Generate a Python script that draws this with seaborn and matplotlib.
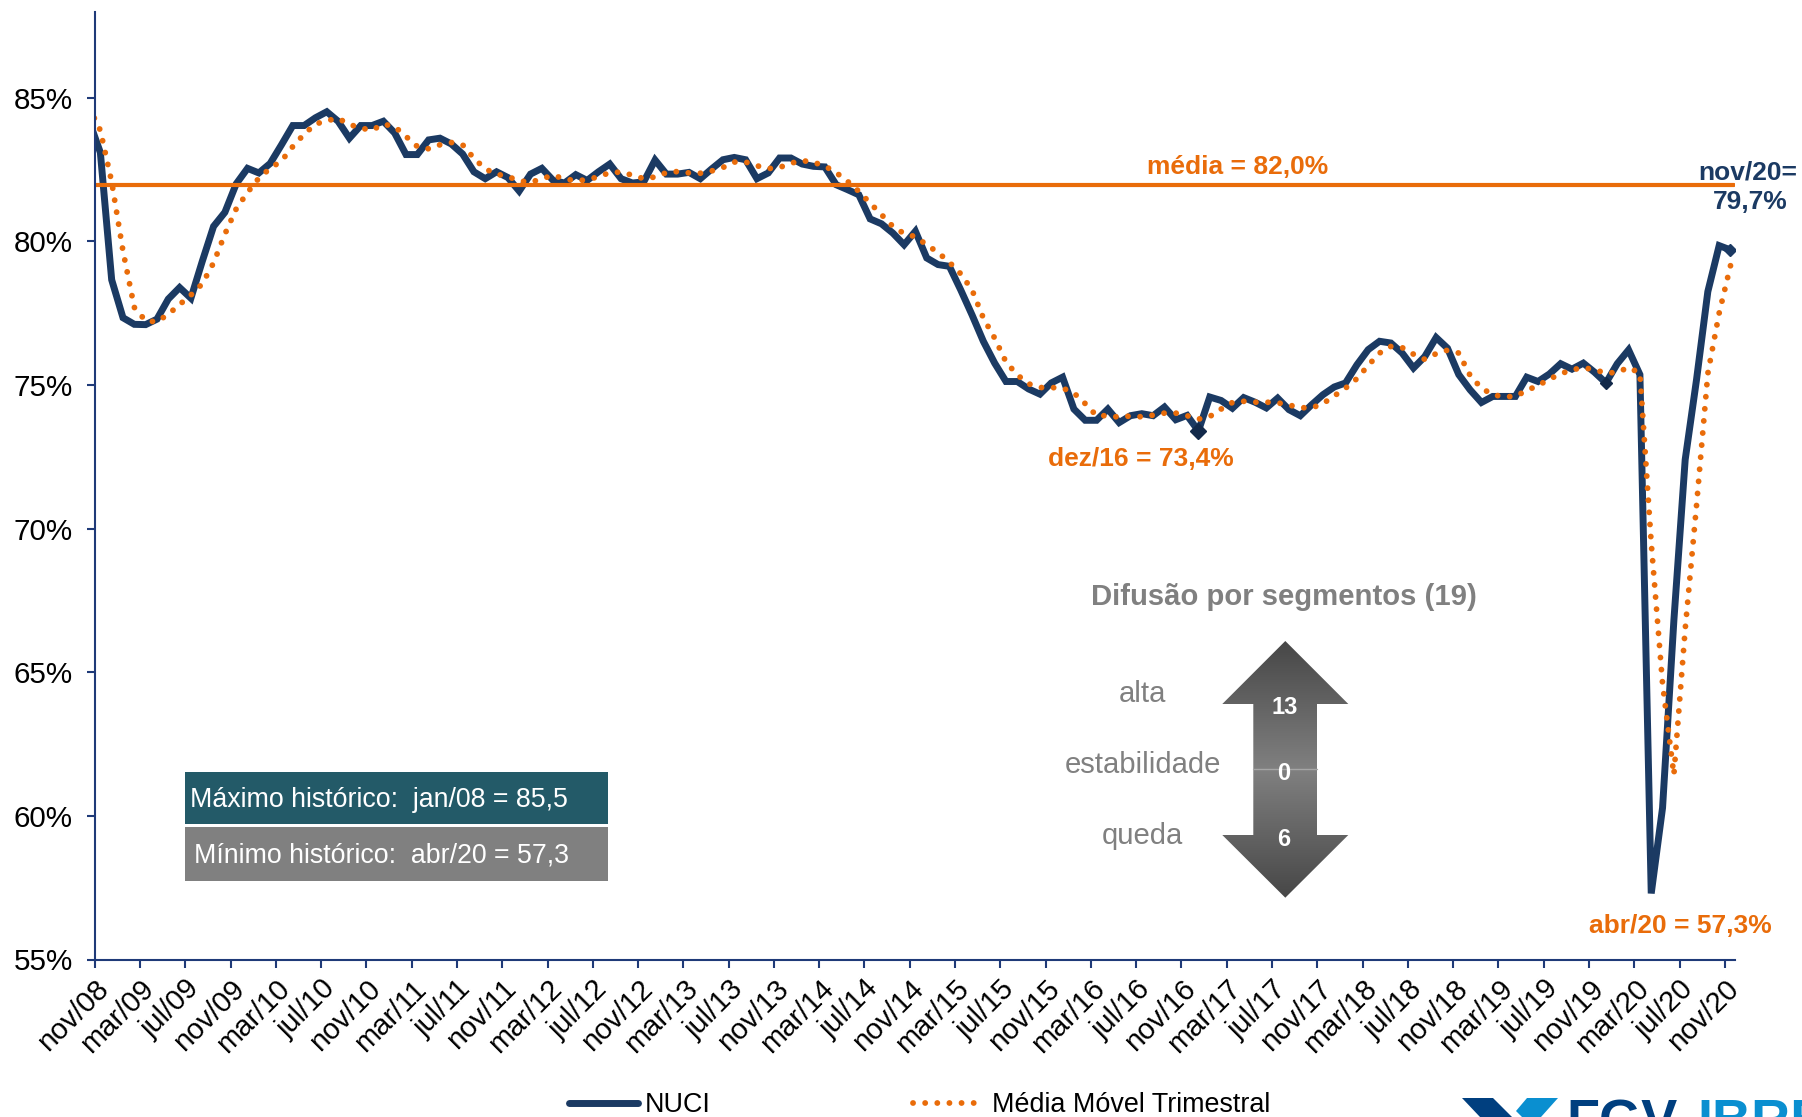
# NUCI chart - capacity utilisation with 3 month moving average

import matplotlib
matplotlib.use("Agg")
import matplotlib.pyplot as plt
from matplotlib.patches import Polygon, Rectangle
import numpy as np
import pandas as pd
import seaborn as sns

nuci = [84.2,
        83.09, 78.66, 77.34, 77.11, 77.10, 77.29, 77.99, 78.39, 78.02, 79.30, 80.52, 81.01,
        82.00, 82.54, 82.38, 82.71, 83.36, 84.03, 84.03, 84.30, 84.51, 84.18, 83.59, 84.03,
        84.03, 84.18, 83.77, 83.02, 83.02, 83.53, 83.59, 83.39, 83.04, 82.42, 82.18, 82.42,
        82.22, 81.75, 82.34, 82.54, 82.12, 82.03, 82.32, 82.12, 82.42, 82.69, 82.18, 82.03,
        82.07, 82.83, 82.34, 82.34, 82.40, 82.18, 82.52, 82.84, 82.92, 82.84, 82.18, 82.38,
        82.90, 82.90, 82.69, 82.61, 82.59, 81.97, 81.80, 81.62, 80.78, 80.61, 80.29, 79.88,
        80.35, 79.42, 79.19, 79.13, 78.31, 77.44, 76.52, 75.76, 75.12, 75.12, 74.86, 74.68,
        75.07, 75.27, 74.16, 73.77, 73.77, 74.16, 73.69, 73.93, 74.00, 73.93, 74.23, 73.79,
        73.94, 73.40, 74.58, 74.46, 74.19, 74.56, 74.40, 74.20, 74.54, 74.14, 73.93, 74.31,
        74.66, 74.93, 75.07, 75.70, 76.23, 76.52, 76.46, 76.11, 75.59, 75.99, 76.65, 76.28,
        75.36, 74.83, 74.39, 74.60, 74.60, 74.60, 75.27, 75.12, 75.38, 75.74, 75.55, 75.76,
        75.44, 75.07, 75.74, 76.22, 75.36, 57.30, 60.28, 66.80, 72.40, 75.18, 78.25, 79.85,
        79.70]
media_movel = [84.67,
        83.86, 82.07, 79.66, 77.70, 77.23, 77.20, 77.46, 77.80, 78.13, 78.52, 79.25, 80.25,
        81.13, 81.70, 82.20, 82.54, 82.80, 83.30, 83.73, 84.08, 84.20, 84.28, 84.07, 83.94,
        83.87, 84.08, 83.99, 83.65, 83.30, 83.22, 83.36, 83.44, 83.36, 82.89, 82.52, 82.34,
        82.25, 82.11, 82.05, 82.18, 82.30, 82.17, 82.11, 82.14, 82.25, 82.39, 82.41, 82.30,
        82.18, 82.24, 82.39, 82.43, 82.38, 82.37, 82.45, 82.57, 82.76, 82.76, 82.63, 82.53,
        82.57, 82.72, 82.81, 82.75, 82.62, 82.39, 82.09, 81.74, 81.33, 80.93, 80.52, 80.27,
        80.16, 79.88, 79.61, 79.27, 78.87, 78.31, 77.33, 76.63, 75.80, 75.35, 75.04, 74.91,
        74.91, 74.89, 74.72, 74.35, 73.93, 73.93, 73.88, 73.92, 73.89, 73.95, 74.02, 74.02,
        73.93, 73.81, 73.90, 74.16, 74.39, 74.43, 74.40, 74.40, 74.38, 74.30, 74.21, 74.20,
        74.35, 74.62, 74.89, 75.22, 75.68, 76.11, 76.34, 76.30, 76.07, 75.89, 76.09, 76.21,
        76.11, 75.33, 74.89, 74.66, 74.59, 74.60, 74.81, 74.98, 75.20, 75.39, 75.53, 75.60,
        75.53, 75.41, 75.44, 75.61, 75.41, 69.50, 64.60, 61.43, 66.50, 70.80, 75.40, 77.50,
        79.15]
media = 81.96
destaques = [97, 133, 144]  # months after nov/08 with a diamond
y_ticks = [55, 60, 65, 70, 75, 80, 85]
anos = ["08", "09", "10", "11", "12", "13", "14", "15", "16", "17", "18", "19", "20"]
x_labels = ["nov/08"] + [m + "/" + a for a in anos[1:] for m in ["mar", "jul", "nov"]]

W, H = 1802, 1117
AZUL = "#1b3a63"
LARANJA = "#e96c0a"
CINZA = "#808080"
EIXO = "#1f3a78"

sns.set_theme(style="white")
plt.rcParams["font.family"] = ["Liberation Sans", "DejaVu Sans"]

fig = plt.figure(figsize=(W / 100, H / 100), dpi=100)

# plot area in pixels: left 94.7, right 1735, top 11.5, bottom 959.5
ax = fig.add_axes([94.7 / W, 1 - 959.5 / H, (1735 - 94.7) / W, (959.5 - 11.5) / H])

df = pd.DataFrame({"mes": np.arange(len(nuci)) - 1 + 0.5, "nuci": nuci, "mm": media_movel})

# dots go over the solid line in the original
sns.lineplot(data=df, x="mes", y="nuci", ax=ax, color=AZUL, lw=5, errorbar=None,
             solid_joinstyle="miter", solid_capstyle="round")
sns.lineplot(data=df, x="mes", y="mm", ax=ax, color=LARANJA, lw=4.2, errorbar=None,
             linestyle=(0, (0.01, 2.07)), dash_capstyle="round")
ax.plot([0, 144.8], [media, media], color=LARANJA, lw=3)

# diamonds
tamanhos = [8.5, 6.5, 6.5]
for d, t in zip(destaques, tamanhos):
    ax.plot(d + 0.5, nuci[d + 1], marker="D", ms=t, color="#12294a" if d < 144 else AZUL, zorder=5)

ax.set_xlim(0, 144.9)
ax.set_ylim(55, 88)
ax.set_xlabel("")
ax.set_ylabel("")
ax.set_yticks(y_ticks)
ax.set_yticklabels([str(v) + "%" for v in y_ticks], fontsize=21.3, color="black")
ax.set_xticks(np.arange(len(x_labels)) * 4)
ax.set_xticklabels(x_labels, fontsize=21, color="black", rotation=45, ha="right",
                   rotation_mode="anchor")
ax.tick_params(axis="both", length=5.8, width=1.5, color=EIXO, left=True, bottom=True)
ax.tick_params(axis="y", pad=10)
ax.tick_params(axis="x", pad=5)
for lado in ["top", "right"]:
    ax.spines[lado].set_visible(False)
for lado in ["left", "bottom"]:
    ax.spines[lado].set_color(EIXO)
    ax.spines[lado].set_linewidth(1.5)

# overlay in pixel coordinates for the notes
ov = fig.add_axes([0, 0, 1, 1], facecolor="none")
ov.set_xlim(0, W)
ov.set_ylim(H, 0)
ov.axis("off")

def nota(x, y, s, cor, size, weight="bold", ha="center"):
    ov.text(x, y + 2, s, color=cor, fontsize=size, fontweight=weight, ha=ha, va="center")

nota(1238, 165, "média = 82,0%", LARANJA, 19)
nota(1141, 457, "dez/16 = 73,4%", LARANJA, 19)
nota(1680, 924, "abr/20 = 57,3%", LARANJA, 19)
nota(1748, 171, "nov/20=", AZUL, 19)
nota(1750, 200, "79,7%", AZUL, 19)

# boxes
ov.add_patch(Rectangle((185, 772), 423, 52, color="#235a68", lw=0))
ov.add_patch(Rectangle((185, 826.5), 423, 54.5, color=CINZA, lw=0))
nota(189.5, 798, "Máximo histórico:  jan/08 = 85,5", "white", 19.3, "normal", "left")
nota(194, 853, "Mínimo histórico:  abr/20 = 57,3", "white", 19.3, "normal", "left")

# diffusion arrow, gradient clipped to the polygon
nota(1283.5, 595, "Difusão por segmentos (19)", CINZA, 21.1)
nota(1142, 692, "alta", CINZA, 21.1, "normal")
nota(1143, 763, "estabilidade", CINZA, 21.1, "normal")
nota(1142, 834, "queda", CINZA, 21.1, "normal")
seta = Polygon([(1285.3, 641), (1348.3, 704), (1317, 704), (1317, 835), (1348.3, 835),
                (1285.3, 897.7), (1222.3, 835), (1253.3, 835), (1253.3, 704), (1222.3, 704)],
               closed=True, transform=ov.transData, fc="none", ec="none")
ov.add_patch(seta)
grad = np.abs(np.linspace(-1, 1, 256)).reshape(-1, 1)
img = ov.imshow(grad, extent=(1222, 1349, 898, 641), cmap=matplotlib.colors.LinearSegmentedColormap.from_list(
    "seta", ["#808080", "#474747"]), vmin=0, vmax=1, aspect="auto", zorder=2)
img.set_clip_path(seta)
ov.set_xlim(0, W)
ov.set_ylim(H, 0)
ov.plot([1253.3, 1317], [769.3, 769.3], color="#a6a6a6", lw=1, zorder=3)
for y, s, x in [(707.5, "13", 1285), (773.5, "0", 1283.3), (839, "6", 1283.3)]:
    ov.text(x, y, s, color="white", fontsize=17, fontweight="bold", ha="center", va="center", zorder=4)

# legend
ov.plot([569, 638], [1103, 1103], color=AZUL, lw=5, solid_capstyle="round")
nota(645, 1103, "NUCI", "black", 19.4, "normal", "left")
ov.plot([913, 982], [1103, 1103], color=LARANJA, lw=4.2, linestyle=(0, (0.01, 2.07)), dash_capstyle="round")
nota(992, 1103, "Média Móvel Trimestral", "black", 19.4, "normal", "left")

# logo, cut off by the bottom of the image as in the original
ov.add_patch(Polygon([(1462, 1098), (1493, 1098), (1512, 1117), (1480, 1117)], fc="#003f7f", ec="none"))
ov.add_patch(Polygon([(1558, 1098), (1527, 1098), (1516, 1111), (1522, 1117), (1541, 1117)], fc="#0a8fd0", ec="none"))
ov.text(1566, 1137, "FGV", color="#003f7f", fontsize=39, fontweight="bold", ha="left", va="baseline")
ov.text(1697, 1137, "IBRE", color="#0a8fd0", fontsize=39, fontweight="bold", ha="left", va="baseline")
ov.set_xlim(0, W)
ov.set_ylim(H, 0)

fig.savefig("out.png", dpi=100)
